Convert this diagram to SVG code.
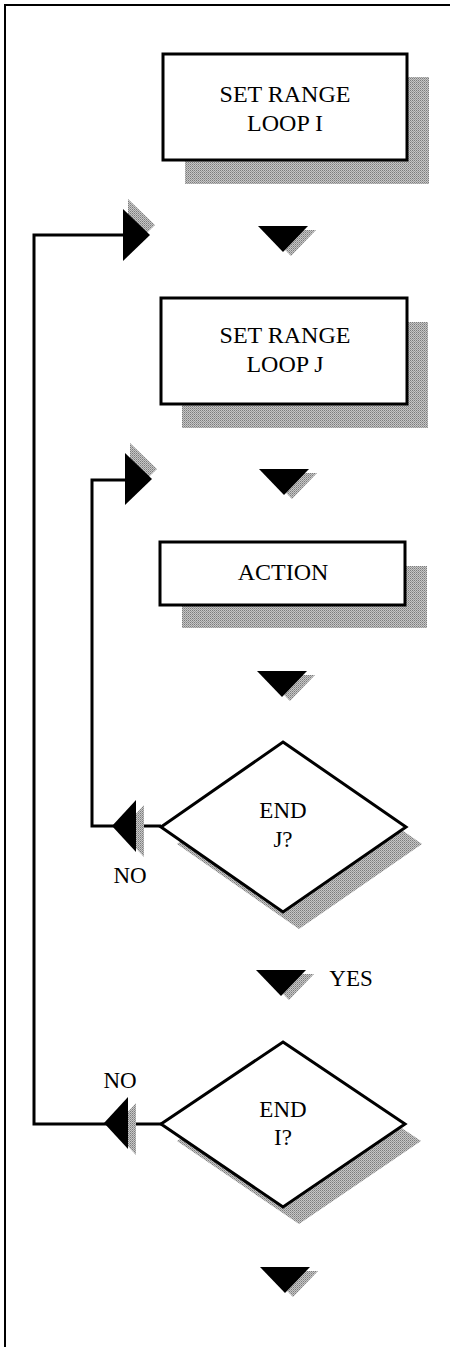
<svg xmlns="http://www.w3.org/2000/svg" width="450" height="1347" viewBox="0 0 450 1347">
  <defs>
    <!-- dithered halftone used for drop shadows -->
    <pattern id="dither" width="2" height="2" patternUnits="userSpaceOnUse">
      <rect width="2" height="2" fill="#c6c6c6"/>
      <rect width="1" height="1" fill="#7c7c7c"/>
      <rect x="1" y="1" width="1" height="1" fill="#9a9a9a"/>
    </pattern>
    <!-- arrowhead shapes, positioned with transforms -->
    <polygon id="tri-down" points="-25,0 25,0 0,26"/>
    <polygon id="tri-right" points="0,-26 0,26 27,0"/>
    <polygon id="tri-left" points="0,-26 0,26 -24,0"/>
  </defs>
  <style>
    .frame { fill: none; stroke: #000; stroke-width: 2; }
    .box { fill: #fff; stroke: #000; stroke-width: 3; }
    .shadow { fill: url(#dither); stroke: none; }
    .link { fill: none; stroke: #000; stroke-width: 3; stroke-linejoin: miter; }
    .head { fill: #000; }
    .label { font-family: "Liberation Serif", "DejaVu Serif", serif; font-size: 24px; fill: #000; text-anchor: middle; }
    .small { font-size: 23px; }
  </style>

  <rect width="450" height="1347" fill="#fff"/>

  <!-- page frame (open on the right and bottom) -->
  <path class="frame" d="M5,1347 V5 H450"/>

  <!-- loop-back connectors -->
  <g id="connectors">
    <path class="link" d="M161,1124 H34 V235 H126"/>
    <path class="link" d="M161,826 H92 V480 H128"/>

    <!-- flow arrowheads with their shadows -->
    <g id="arrow-loop-i-entry">
      <use href="#tri-right" class="shadow" transform="translate(128,225)"/>
      <use href="#tri-right" class="head" transform="translate(123,235)"/>
    </g>
    <g id="arrow-1">
      <use href="#tri-down" class="shadow" transform="translate(291,230)"/>
      <use href="#tri-down" class="head" transform="translate(283,226)"/>
    </g>
    <g id="arrow-loop-j-entry">
      <use href="#tri-right" class="shadow" transform="translate(130,469)"/>
      <use href="#tri-right" class="head" transform="translate(125,479)"/>
    </g>
    <g id="arrow-2">
      <use href="#tri-down" class="shadow" transform="translate(292,473)"/>
      <use href="#tri-down" class="head" transform="translate(284,469)"/>
    </g>
    <g id="arrow-3">
      <use href="#tri-down" class="shadow" transform="translate(290,675)"/>
      <use href="#tri-down" class="head" transform="translate(282,671)"/>
    </g>
    <g id="arrow-no-j">
      <use href="#tri-left" class="shadow" transform="translate(144,831)"/>
      <use href="#tri-left" class="head" transform="translate(136,826)"/>
    </g>
    <g id="arrow-yes">
      <use href="#tri-down" class="shadow" transform="translate(289,974)"/>
      <use href="#tri-down" class="head" transform="translate(281,970)"/>
    </g>
    <g id="arrow-no-i">
      <use href="#tri-left" class="shadow" transform="translate(136,1129)"/>
      <use href="#tri-left" class="head" transform="translate(128,1123)"/>
    </g>
    <g id="arrow-exit">
      <use href="#tri-down" class="shadow" transform="translate(293,1271)"/>
      <use href="#tri-down" class="head" transform="translate(285,1267)"/>
    </g>

    <text class="label small" x="130" y="883">NO</text>
    <text class="label small" x="351" y="986">YES</text>
    <text class="label small" x="120" y="1088">NO</text>
  </g>

  <!-- process boxes -->
  <g id="set-range-i">
    <rect class="shadow" x="185" y="77" width="244" height="107"/>
    <rect class="box" x="163" y="54" width="244" height="106"/>
    <text class="label" x="285" y="102">SET RANGE</text>
    <text class="label" x="285" y="131">LOOP I</text>
  </g>

  <g id="set-range-j">
    <rect class="shadow" x="182" y="322" width="246" height="106"/>
    <rect class="box" x="161" y="298" width="246" height="106"/>
    <text class="label" x="285" y="343">SET RANGE</text>
    <text class="label" x="285" y="372">LOOP J</text>
  </g>

  <g id="action">
    <rect class="shadow" x="182" y="566" width="245" height="62"/>
    <rect class="box" x="160" y="542" width="245" height="63"/>
    <text class="label" x="283" y="580">ACTION</text>
  </g>

  <!-- decisions -->
  <g id="end-j">
    <polygon class="shadow" points="299,759 422,844 299,929 177,844"/>
    <polygon class="box" points="283,742 406,827 283,912 161,827"/>
    <text class="label small" x="283" y="818">END</text>
    <text class="label small" x="283" y="847">J?</text>
  </g>

  <g id="end-i">
    <polygon class="shadow" points="299,1059 421,1141 299,1224 177,1141"/>
    <polygon class="box" points="283,1042 405,1124 283,1207 161,1124"/>
    <text class="label small" x="283" y="1117">END</text>
    <text class="label small" x="283" y="1145">I?</text>
  </g>
</svg>
